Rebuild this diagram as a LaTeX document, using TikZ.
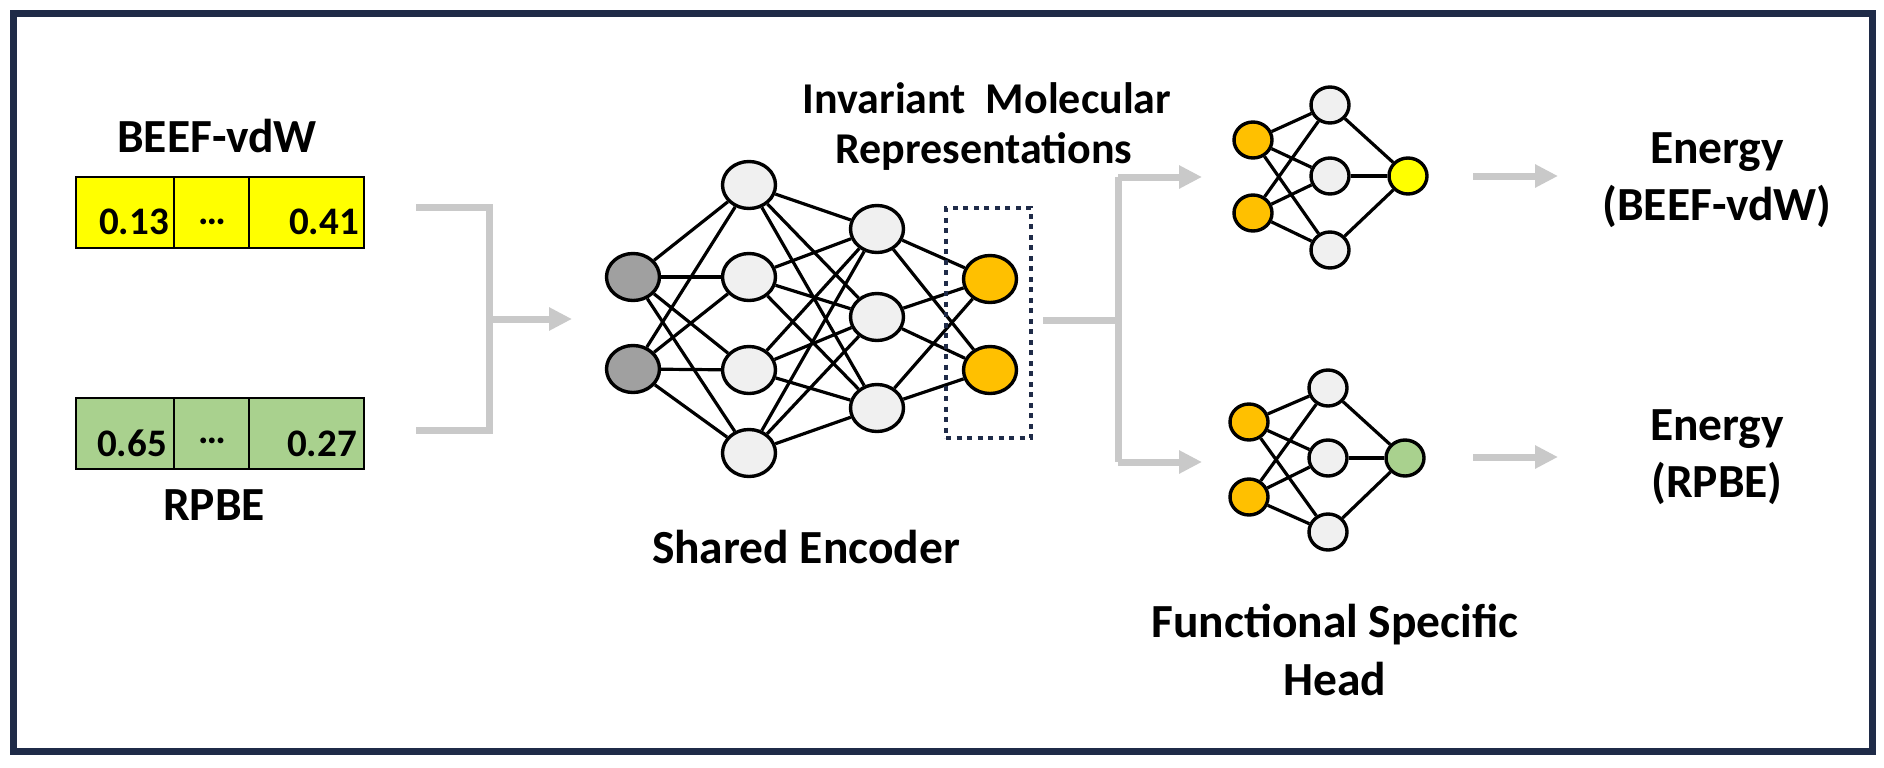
\documentclass[tikz,border=0pt]{standalone}
\usepackage{fontspec}
\setmainfont{Carlito}
\usetikzlibrary{arrows.meta,shapes.geometric}
\pgfdeclarelayer{bg}
\pgfdeclarelayer{edges}
\pgfsetlayers{bg,edges,main}
\definecolor{navy}{HTML}{1F2B48}
\definecolor{ybox}{HTML}{FFFF00}
\definecolor{gbox}{HTML}{A9D18E}
\definecolor{gnode}{HTML}{A0A0A0}
\definecolor{lnode}{HTML}{F0F0F0}
\definecolor{onode}{HTML}{FFC000}
\definecolor{flow}{HTML}{C9C9C9}
\begin{document}
\begin{tikzpicture}[x=1pt,y=-1pt,
  lbl/.style={font=\bfseries\fontsize{47.5}{56}\selectfont, inner sep=0pt, anchor=base},
  lblsm/.style={font=\bfseries\fontsize{44}{52}\selectfont, inner sep=0pt, anchor=base},
  num/.style={font=\bfseries\fontsize{39}{46}\selectfont, inner sep=0pt, anchor=base},
  enc/.style={ellipse, draw=black, line width=3.4pt, minimum width=53pt, minimum height=47pt, inner sep=0pt},
  hd/.style={ellipse, draw=black, line width=3.4pt, minimum width=38pt, minimum height=36pt, inner sep=0pt},
  wire/.style={line width=3.2pt, black},
  flowline/.style={line width=7pt, flow},
  flowarrow/.style={flowline, -{Triangle[length=23pt,width=22pt]}},
  cellbox/.style={draw=black, line width=2pt, minimum height=71pt, inner sep=0pt, anchor=north west},
]
\useasboundingbox (0,0) rectangle (1884,768);
\begin{pgfonlayer}{bg}
\fill[white] (0,0) rectangle (1884,768);
\draw[navy, line width=7pt] (13.5,13.5) rectangle (1872.5,751.5);
\end{pgfonlayer}

% ---------- input vectors ----------
\node[lbl] (tbeef) at (217,152) {BEEF-vdW};
\node[cellbox, fill=ybox, minimum width=98pt] (ya) at (75,176) {};
\node[cellbox, fill=ybox, minimum width=75pt] (yb) at (173,176) {};
\node[cellbox, fill=ybox, minimum width=115pt] (yc) at (248,176) {};
\node[num] (ya1) at (134,234) {0.13};
\node[num] (yb1) at (212,234) {\raisebox{10pt}{…}};
\node[num, anchor=base east] (yc1) at (359,234) {0.41};

\node[cellbox, fill=gbox, minimum width=98pt] (ga) at (75,397) {};
\node[cellbox, fill=gbox, minimum width=75pt] (gb) at (173,397) {};
\node[cellbox, fill=gbox, minimum width=115pt] (gc) at (248,397) {};
\node[num] (ga1) at (132,456) {0.65};
\node[num] (gb1) at (212,453) {\raisebox{10pt}{…}};
\node[num, anchor=base east] (gc1) at (357,456) {0.27};
\node[lbl] (trpbe) at (214,520) {RPBE};

% ---------- encoder ----------
\node[enc, fill=gnode] (i1) at (633,277) {};
\node[enc, fill=gnode] (i2) at (633,369) {};
\node[enc, fill=lnode] (h1) at (749,185) {};
\node[enc, fill=lnode] (h2) at (749,277) {};
\node[enc, fill=lnode] (h3) at (749,370) {};
\node[enc, fill=lnode] (h4) at (749,453) {};
\node[enc, fill=lnode] (g1) at (877,229) {};
\node[enc, fill=lnode] (g2) at (877,317) {};
\node[enc, fill=lnode] (g3) at (877,408) {};
\node[enc, fill=onode] (o1) at (990,279) {};
\node[enc, fill=onode] (o2) at (990,370) {};
\node[draw=navy, line width=4.5pt, dash pattern=on 5pt off 5.5pt, minimum width=85pt, minimum height=230pt, inner sep=0pt] (rep) at (988.5,323) {};

\begin{pgfonlayer}{edges}
\foreach \a in {i1,i2}{\foreach \b in {h1,h2,h3,h4}{\draw[wire] (\a) -- (\b);}}
\foreach \a in {h1,h2,h3,h4}{\foreach \b in {g1,g2,g3}{\draw[wire] (\a) -- (\b);}}
\foreach \a in {g1,g2,g3}{\foreach \b in {o1,o2}{\draw[wire] (\a) -- (\b);}}
\end{pgfonlayer}

\node[lblsm] (tinv) at (987,113) {Invariant\hspace{0.45em}Molecular};
\node[lblsm] (trep) at (984,163) {Representations};
\node[lbl] (tenc) at (806,563) {Shared Encoder};

% ---------- heads ----------
\node[hd, fill=onode] (a1) at (1253,140) {};
\node[hd, fill=onode] (a2) at (1253,213) {};
\node[hd, fill=lnode] (b1) at (1330,105) {};
\node[hd, fill=lnode] (b2) at (1330,176) {};
\node[hd, fill=lnode] (b3) at (1330,250) {};
\node[hd, fill=ybox] (yo) at (1408,176) {};

\node[hd, fill=onode] (c1) at (1249,422) {};
\node[hd, fill=onode] (c2) at (1249,497) {};
\node[hd, fill=lnode] (d1) at (1328,388) {};
\node[hd, fill=lnode] (d2) at (1328,458) {};
\node[hd, fill=lnode] (d3) at (1328,532) {};
\node[hd, fill=gbox] (go) at (1405,458) {};

\begin{pgfonlayer}{edges}
\foreach \a in {a1,a2}{\foreach \b in {b1,b2,b3}{\draw[wire] (\a) -- (\b);}}
\foreach \a in {b1,b2,b3}{\draw[wire] (\a) -- (yo);}
\foreach \a in {c1,c2}{\foreach \b in {d1,d2,d3}{\draw[wire] (\a) -- (\b);}}
\foreach \a in {d1,d2,d3}{\draw[wire] (\a) -- (go);}
\end{pgfonlayer}

\node[lbl] (tfun) at (1335,637) {Functional Specific};
\node[lbl] (thead) at (1335,695) {Head};

\node[lbl] (te1) at (1717,163) {Energy};
\node[lbl] (te1b) at (1717,220) {(BEEF-vdW)};
\node[lbl] (te2) at (1717,440) {Energy};
\node[lbl] (te2b) at (1717,497) {(RPBE)};

% ---------- grey flow connectors ----------
\coordinate (lbt) at (416,207);
\coordinate (lbb) at (416,430);
\coordinate (lbm) at (489,319);
\coordinate (encin) at (572,319);
\coordinate (rout) at (1043,320);
\coordinate (split) at (1118,320);
\coordinate (toptip) at (1202,177);
\coordinate (bottip) at (1202,462);
\coordinate (ytip) at (1558,176);
\coordinate (gtip) at (1558,457);
\coordinate (ystart) at (1473,176);
\coordinate (gstart) at (1473,457);

\draw[flowline] (lbt) -- (lbt -| lbm) -- (lbb -| lbm) -- (lbb);
\draw[flowarrow] (lbm) -- (encin);
\draw[flowline] (rout) -- (split);
\draw[flowarrow] (toptip -| split) -- (toptip);
\draw[flowarrow] (bottip -| split) -- (bottip);
\draw[flowline] (toptip -| split) -- (bottip -| split);
\draw[flowarrow] (ystart) -- (ytip);
\draw[flowarrow] (gstart) -- (gtip);
\end{tikzpicture}
\end{document}
